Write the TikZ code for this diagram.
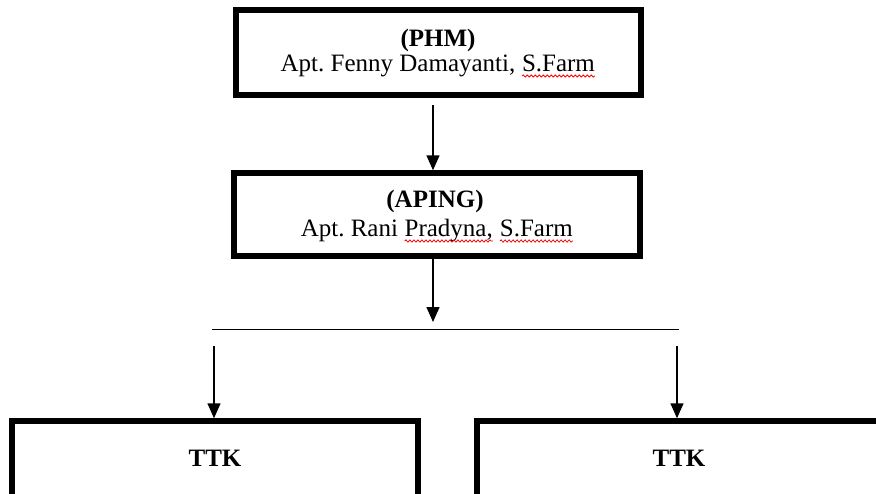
\documentclass[tikz,border=0pt]{standalone}
\usepackage{fontspec}
\setmainfont{Liberation Serif}
\frenchspacing
\usetikzlibrary{arrows.meta,calc,decorations.pathmorphing}
\newcommand\redwave[1]{\tikz[baseline=(w.base),x=1pt,y=1pt]{\node[inner sep=0pt,outer sep=0pt] (w) {#1};\draw[red, line width=0.8pt, decorate, decoration={snake, amplitude=1.1pt, segment length=4pt}] ([yshift=-5pt]w.base west) -- ([yshift=-5pt]w.base east);}}
\tikzset{
  box/.style={draw=black, line width=5.5pt, rectangle, inner sep=0pt},
  txt/.style={font=\fontsize{25}{30}\selectfont, inner sep=0pt},
  arr/.style={line width=1.5pt, -{Triangle[length=15pt,width=13pt]}},
  rule/.style={line width=1.3pt}
}
\begin{document}
\begin{tikzpicture}[x=1pt,y=-1pt]
\useasboundingbox (0,0) rectangle (876,493);
\begin{scope}
\clip (0,0) rectangle (876,493);
% boxes
\node[box, minimum width=405pt, minimum height=85pt] (phm) at (438.5,52.5) {};
\node[box, minimum width=406pt, minimum height=83pt] (aping) at (437,214.5) {};
\node[box, minimum width=406pt, minimum height=80pt] (ttka) at (215,461) {};
\node[box, minimum width=406pt, minimum height=80pt] (ttkb) at (680,461) {};
% texts
\node[txt, anchor=base] (phmt) at (438,46) {\textbf{(PHM)}};
\node[txt, anchor=base] (phmn) at (438,71) {Apt. Fenny Damayanti, \redwave{S.Farm}};
\node[txt, anchor=base] (apingt) at (435,207) {\textbf{(APING)}};
\node[txt, anchor=base] (apingn) at (437,236) {Apt. Rani \redwave{Pradyna,} \redwave{S.Farm}};
\node[txt, anchor=base] (ttkat) at (215,466) {\textbf{TTK}};
\node[txt, anchor=base] (ttkbt) at (679,466) {\textbf{TTK}};
% connectors
\coordinate (a1s) at (433,105);
\coordinate (a2s) at (433,256);
\coordinate (a2e) at (433,322);
\coordinate (hl) at (212,329.5);
\coordinate (hr) at (679,329.5);
\coordinate (a3s) at (214,346);
\coordinate (a4s) at (677,346);
\draw[arr] (a1s) -- (a1s |- aping.north);
\draw[arr] (a2s) -- (a2e);
\draw[rule] (hl) -- (hr);
\draw[arr] (a3s) -- (a3s |- ttka.north);
\draw[arr] (a4s) -- (a4s |- ttkb.north);
\end{scope}
\end{tikzpicture}
\end{document}
